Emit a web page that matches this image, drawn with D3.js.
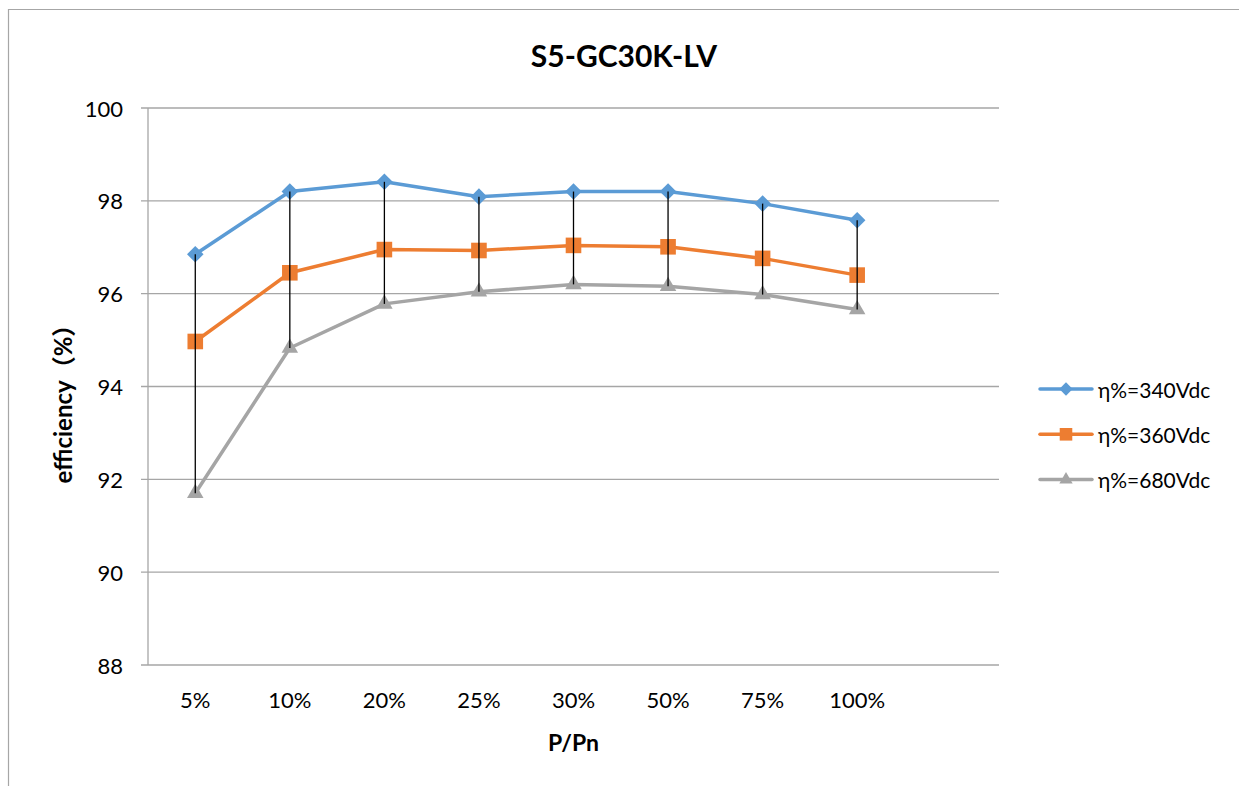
<!DOCTYPE html>
<html>
<head>
<meta charset="utf-8">
<script src="https://cdn.jsdelivr.net/npm/d3@7"></script>
<style>
  html, body { margin: 0; padding: 0; background: #fff; }
  svg { display: block; font-family: Lato, "Noto Sans", "Noto Sans CJK SC", sans-serif; }
</style>
</head>
<body>
<svg id="chart" width="1239" height="786"></svg>
<script>
const categories = ["5%", "10%", "20%", "25%", "30%", "50%", "75%", "100%"];
const yTicks = [88, 90, 92, 94, 96, 98, 100];

const eff340 = [96.85, 98.20, 98.41, 98.09, 98.20, 98.20, 97.94, 97.58];
const eff360 = [94.97, 96.45, 96.95, 96.93, 97.04, 97.01, 96.76, 96.40];
const eff680 = [91.70, 94.83, 95.78, 96.04, 96.20, 96.16, 95.98, 95.66];

const seriesNames = ["η%=340Vdc", "η%=360Vdc", "η%=680Vdc"];

const series = [
    { name: seriesNames[0], values: eff340, colour: "#5B9BD5", symbol: d3.symbolDiamond2, size: 175 },
    { name: seriesNames[1], values: eff360, colour: "#ED7D31", symbol: d3.symbolSquare2, size: 310 },
    { name: seriesNames[2], values: eff680, colour: "#A5A5A5", symbol: d3.symbolTriangle2, size: 195 }
];

const svg = d3.select("#chart");
const gridColour = "#A6A6A6";

// outer chart frame (only left + top edges are inside the shot)
svg.append("path")
    .attr("d", "M8.5,786 L8.5,9.5 L1239,9.5")
    .attr("fill", "none")
    .attr("stroke", gridColour)
    .attr("stroke-width", 1.2);

const margin = { top: 108, left: 148 };
const width = 851, height = 557;

const chart = svg.append("g").attr("transform", `translate(${margin.left}, ${margin.top})`);

// excel leaves one empty slot on the right, so the 8 bands only use 8/9 of the width
const x = d3.scaleBand().domain(categories).range([0, width * 8 / 9]);
const y = d3.scaleLinear().domain([88, 100]).range([height, 0]);

// gridlines
chart.selectAll(".grid")
    .data(yTicks)
    .join("line")
    .attr("class", "grid")
    .attr("x1", -7)
    .attr("x2", width)
    .attr("y1", d => y(d))
    .attr("y2", d => y(d))
    .attr("stroke", gridColour)
    .attr("stroke-width", 1.3);

chart.append("line")
    .attr("x1", 0).attr("x2", 0)
    .attr("y1", 0).attr("y2", height)
    .attr("stroke", gridColour)
    .attr("stroke-width", 1.3);

chart.selectAll(".y-label")
    .data(yTicks)
    .join("text")
    .attr("class", "y-label")
    .attr("x", -25)
    .attr("y", d => y(d))
    .attr("text-anchor", "end")
    .attr("dominant-baseline", "central")
    .attr("font-size", 22)
    .text(d => d);

chart.selectAll(".x-label")
    .data(categories)
    .join("text")
    .attr("class", "x-label")
    .attr("x", d => x(d) + x.bandwidth() / 2)
    .attr("y", height + 34)
    .attr("text-anchor", "middle")
    .attr("dominant-baseline", "central")
    .attr("font-size", 22)
    .text(d => d);

// series lines
const line = d3.line()
    .x((_, i) => x(categories[i]) + x.bandwidth() / 2)
    .y(d => y(d));

series.forEach(s => {
    chart.append("path")
        .attr("d", line(s.values))
        .attr("fill", "none")
        .attr("stroke", s.colour)
        .attr("stroke-width", 3.5)
        .attr("stroke-linejoin", "round");

    chart.selectAll(null)
        .data(s.values)
        .join("path")
        .attr("transform", (d, i) => `translate(${x(categories[i]) + x.bandwidth() / 2}, ${y(d)})`)
        .attr("d", d3.symbol().type(s.symbol).size(s.size))
        .attr("fill", s.colour);
});

// high-low lines
chart.selectAll(".hilo")
    .data(categories)
    .join("line")
    .attr("class", "hilo")
    .attr("x1", d => x(d) + x.bandwidth() / 2)
    .attr("x2", d => x(d) + x.bandwidth() / 2)
    .attr("y1", (_, i) => y(d3.max(series, s => s.values[i])))
    .attr("y2", (_, i) => y(d3.min(series, s => s.values[i])))
    .attr("stroke", "#000")
    .attr("stroke-width", 1.3);

// titles
svg.append("text")
    .attr("x", 624)
    .attr("y", 55)
    .attr("text-anchor", "middle")
    .attr("dominant-baseline", "central")
    .attr("font-size", 30)
    .attr("font-weight", "bold")
    .text("S5-GC30K-LV");

svg.append("text")
    .attr("x", margin.left + width / 2)
    .attr("y", 742)
    .attr("text-anchor", "middle")
    .attr("dominant-baseline", "central")
    .attr("font-size", 23)
    .attr("font-weight", "bold")
    .text("P/Pn");

svg.append("text")
    .attr("transform", "translate(62, 398) rotate(-90)")
    .attr("text-anchor", "middle")
    .attr("dominant-baseline", "central")
    .attr("font-size", 24)
    .attr("font-weight", "bold")
    .text("efficiency（%）");

// legend
const legend = svg.selectAll(".legend")
    .data(series)
    .join("g")
    .attr("class", "legend")
    .attr("transform", (_, i) => `translate(1040, ${389 + i * 45.3})`);

legend.append("line")
    .attr("x1", 0).attr("x2", 52)
    .attr("stroke", d => d.colour)
    .attr("stroke-width", 3.5)
    .attr("stroke-linecap", "round");

legend.append("path")
    .attr("transform", "translate(26, 0)")
    .attr("d", d => d3.symbol().type(d.symbol).size(d.size * 0.65)())
    .attr("fill", d => d.colour);

legend.append("text")
    .attr("x", 58)
    .attr("dominant-baseline", "central")
    .attr("font-size", 21)
    .text(d => d.name);
</script>
</body>
</html>
